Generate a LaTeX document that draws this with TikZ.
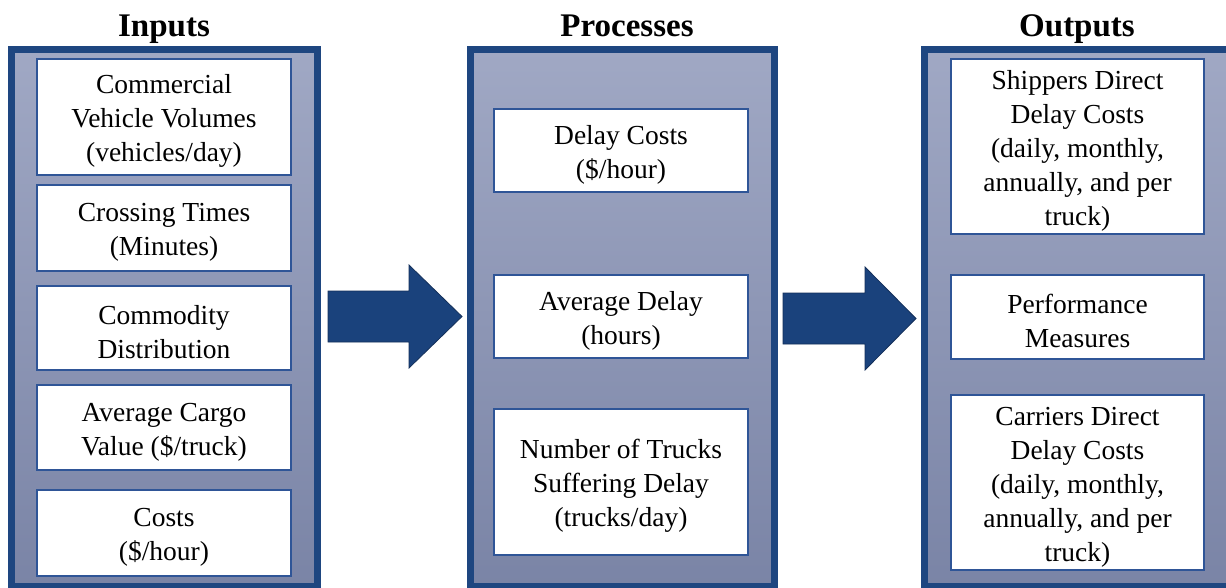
\documentclass[tikz,border=0pt]{standalone}
\usepackage{fontspec}
\setmainfont{Liberation Serif}
\definecolor{outerblue}{RGB}{30,70,128}
\definecolor{innerblue}{RGB}{47,85,151}
\definecolor{arrowblue}{RGB}{26,66,124}
\definecolor{arrowedge}{RGB}{20,48,90}
\definecolor{shadetop}{RGB}{160,168,196}
\definecolor{shadebot}{RGB}{122,132,166}
\newcommand{\tstrut}{\rule{0pt}{27pt}}
\tikzset{
  outerbox/.style={draw=outerblue, line width=7pt, top color=shadetop, bottom color=shadebot, inner sep=0pt, rectangle},
  innerbox/.style={draw=innerblue, line width=2.2pt, fill=white, inner sep=0pt, rectangle, align=center,
    font=\fontsize{27.5}{34}\selectfont},
  title/.style={font=\bfseries\fontsize{33}{38}\selectfont, anchor=base, inner sep=0pt},
  blockarrow/.style={fill=arrowblue, draw=arrowedge, line width=0.8pt, line join=miter}
}
\begin{document}
\begin{tikzpicture}[x=1pt,y=-1pt]
\useasboundingbox (0,0) rectangle (1226,587);
\clip (0,0) rectangle (1226,587);
\fill[white] (0,0) rectangle (1226,587);

% titles
\node[title] (tin) at (164,36) {Inputs};
\node[title] (tpr) at (627,36) {Processes};
\node[title] (tout) at (1077,36) {Outputs};

% outer boxes
\node[outerbox, minimum width=305.5pt, minimum height=537pt] (inbox) at (164.25,318) {};
\node[outerbox, minimum width=304pt, minimum height=537pt] (prbox) at (622.5,318) {};
\node[outerbox, minimum width=305.5pt, minimum height=537pt] (outbox) at (1076.75,318) {};

% inputs
\node[innerbox, minimum width=254pt, minimum height=116pt] (i1) at (164,117) {\tstrut Commercial\\Vehicle Volumes\\(vehicles/day)};
\node[innerbox, minimum width=254pt, minimum height=86pt] (i2) at (164,228) {\tstrut Crossing Times\\(Minutes)};
\node[innerbox, minimum width=254pt, minimum height=84pt] (i3) at (164,328) {\tstrut Commodity\\Distribution};
\node[innerbox, minimum width=254pt, minimum height=85pt] (i4) at (164,427.5) {\tstrut Average Cargo\\Value (\$/truck)};
\node[innerbox, minimum width=254pt, minimum height=86pt] (i5) at (164,533) {\tstrut Costs\\(\$/hour)};

% processes
\node[innerbox, minimum width=254pt, minimum height=83pt] (p1) at (621,150.5) {\tstrut Delay Costs\\(\$/hour)};
\node[innerbox, minimum width=254pt, minimum height=83pt] (p2) at (621,316.5) {\tstrut Average Delay\\(hours)};
\node[innerbox, minimum width=254pt, minimum height=146pt] (p3) at (621,482) {\tstrut Number of Trucks\\Suffering Delay\\(trucks/day)};

% outputs
\node[innerbox, minimum width=253pt, minimum height=175pt] (o1) at (1077.5,146.5) {\tstrut Shippers Direct\\Delay Costs\\(daily, monthly,\\annually, and per\\truck)};
\node[innerbox, minimum width=253pt, minimum height=84pt] (o2) at (1077.5,317) {\tstrut Performance\\Measures};
\node[innerbox, minimum width=253pt, minimum height=175pt] (o3) at (1077.5,482.5) {\tstrut Carriers Direct\\Delay Costs\\(daily, monthly,\\annually, and per\\truck)};

% block arrows
\draw[blockarrow] (328,291) -- (409,291) -- (409,265) -- (462,316.5) -- (409,368) -- (409,342) -- (328,342) -- cycle;
\draw[blockarrow] (783,293) -- (865,293) -- (865,267) -- (916,318.5) -- (865,370) -- (865,344) -- (783,344) -- cycle;
\end{tikzpicture}
\end{document}
